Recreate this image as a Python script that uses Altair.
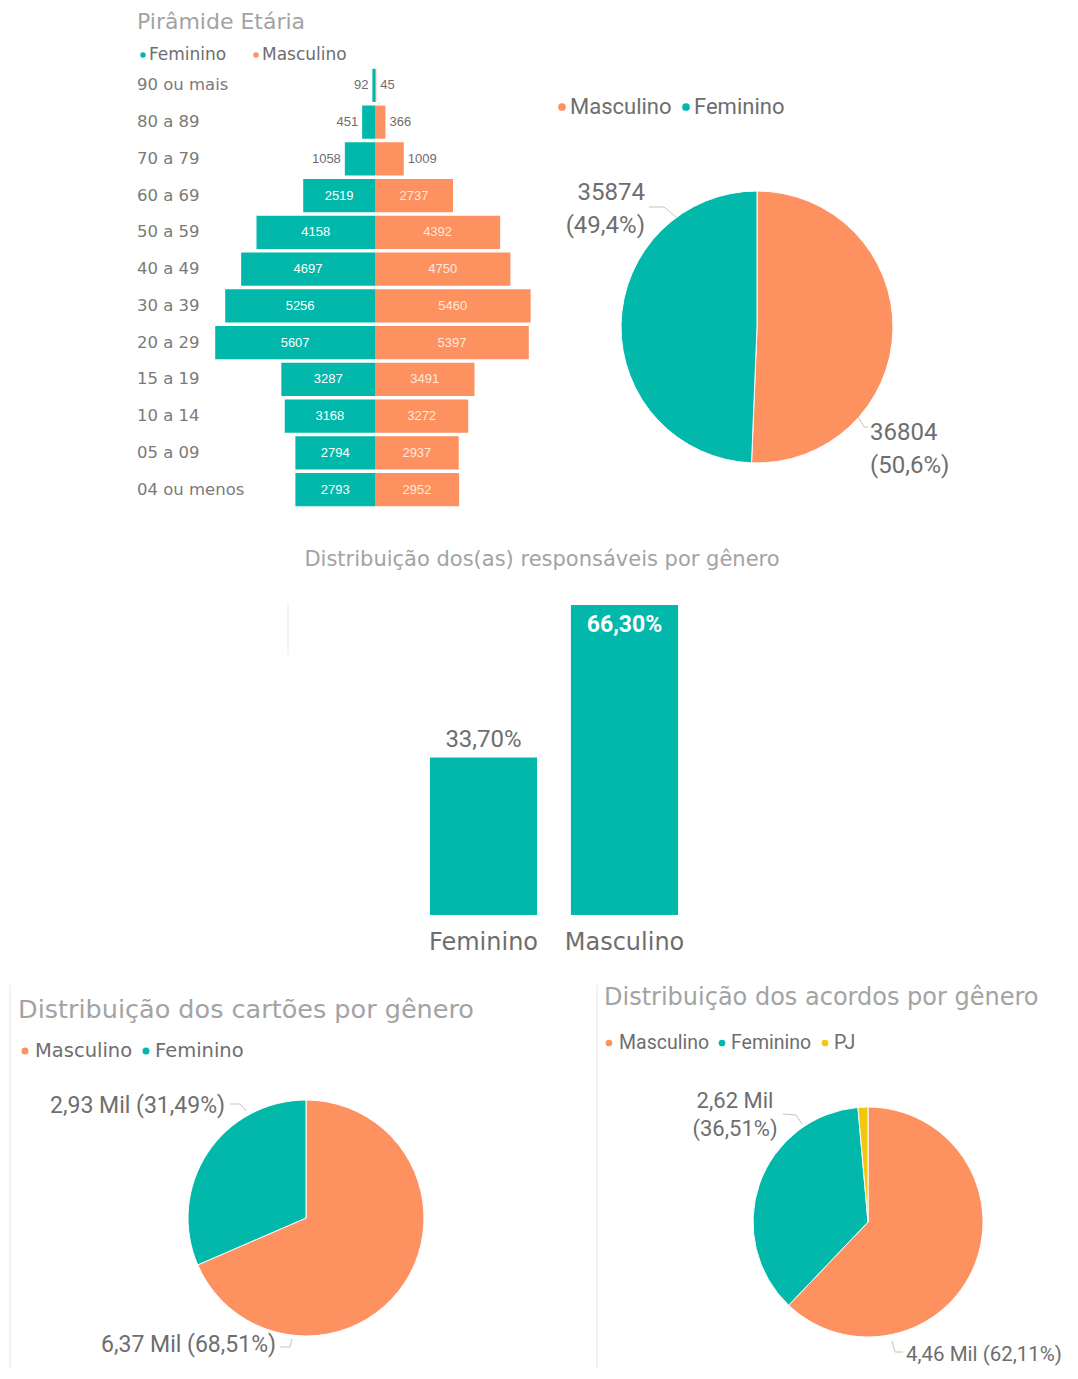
import altair as alt
import pandas as pd

TEAL = "#01B8AA"
ORANGE = "#FD9160"
YELLOW = "#F2C80F"
TITLE_C = "#a3a3a3"
TEXT_C = "#6e6e6e"
LINE_C = "#c4c4c4"

F_UI = "Open Sans, Noto Sans, sans-serif"
F_WIDE = "DejaVu Sans, Verdana, sans-serif"
F_DIN = "Roboto, Noto Sans, sans-serif"
F_AR = "Liberation Sans, Arial, sans-serif"

# ---------------- data ----------------
ages = ["90 ou mais", "80 a 89", "70 a 79", "60 a 69", "50 a 59", "40 a 49",
        "30 a 39", "20 a 29", "15 a 19", "10 a 14", "05 a 09", "04 ou menos"]
fem = [92, 451, 1058, 2519, 4158, 4697, 5256, 5607, 3287, 3168, 2794, 2793]
masc = [45, 366, 1009, 2737, 4392, 4750, 5460, 5397, 3491, 3272, 2937, 2952]

pop_genders = ["Masculino", "Feminino"]
pop_values = [36804, 35874]
pop_pct = [50.6, 49.4]

resp_genders = ["Feminino", "Masculino"]
resp_pct = [33.70, 66.30]

card_genders = ["Masculino", "Feminino"]
card_values = [6.37, 2.93]      # Mil
card_pct = [68.51, 31.49]

deal_genders = ["Masculino", "Feminino", "PJ"]
deal_values = [4.46, 2.62, 0.10]  # Mil
deal_pct = [62.11, 36.51, 1.38]

legend_domain = ["Masculino", "Feminino", "PJ"]
color_sc = alt.Scale(domain=legend_domain, range=[ORANGE, TEAL, YELLOW])

one = pd.DataFrame({"a": [0]})
layers = []


def txt(x, y, s, size, color=TEXT_C, font=F_UI, align="left", weight="normal"):
    return alt.Chart(one).mark_text(
        align=align, baseline="middle", fontSize=size, font=font,
        color=color, fontWeight=weight
    ).encode(x=alt.value(x), y=alt.value(y), text=alt.value(s))


def dot(x, y, color, size=45):
    return alt.Chart(one).mark_circle(size=size, color=color, opacity=1).encode(
        x=alt.value(x), y=alt.value(y))


def seg(x1, y1, x2, y2, color=LINE_C):
    return alt.Chart(one).mark_rule(color=color, strokeWidth=1).encode(
        x=alt.value(x1), x2=alt.value(x2), y=alt.value(y1), y2=alt.value(y2))


# ---------------- pyramid ----------------
pyr = pd.DataFrame({"age": ages, "fem": fem, "masc": masc})
ysc = alt.Scale(domain=ages, range=[59, 500], paddingInner=0.1, paddingOuter=0.05)
fx = alt.Scale(domain=[0, 6000], range=[367, 196], nice=False, zero=True)
mx = alt.Scale(domain=[0, 6000], range=[367, 538], nice=False, zero=True)
Y = alt.Y("age:N", scale=ysc, axis=None)

layers.append(txt(129, 14, "Pirâmide Etária", 22, TITLE_C, F_WIDE))
layers.append(dot(135, 47, TEAL, 30))
layers.append(txt(141, 47, "Feminino", 17, TEXT_C, F_WIDE))
layers.append(dot(248, 47, ORANGE, 30))
layers.append(txt(254, 47, "Masculino", 17, TEXT_C, F_WIDE))

layers.append(alt.Chart(pyr).mark_text(align="left", fontSize=16.5, font=F_WIDE, color="#7a7a7a")
              .encode(y=Y, x=alt.value(129), text="age:N"))

layers.append(alt.Chart(pyr).transform_calculate(z="0").mark_bar(color=TEAL)
              .encode(y=Y, x=alt.X("fem:Q", scale=fx, axis=None), x2="z:Q"))
layers.append(alt.Chart(pyr).transform_calculate(z="0").mark_bar(color=ORANGE)
              .encode(y=Y, x=alt.X("masc:Q", scale=mx, axis=None), x2="z:Q"))

layers.append(alt.Chart(pyr).transform_filter("datum.fem >= 2000")
              .transform_calculate(mid="datum.fem / 2")
              .mark_text(fontSize=13, font=F_AR, color="#ffffff")
              .encode(y=Y, x=alt.X("mid:Q", scale=fx, axis=None), text="fem:Q"))
layers.append(alt.Chart(pyr).transform_filter("datum.fem < 2000")
              .mark_text(fontSize=13, font=F_AR, color=TEXT_C, align="right", dx=-4)
              .encode(y=Y, x=alt.X("fem:Q", scale=fx, axis=None), text="fem:Q"))
layers.append(alt.Chart(pyr).transform_filter("datum.masc >= 2000")
              .transform_calculate(mid="datum.masc / 2")
              .mark_text(fontSize=13, font=F_AR, color="#ffe8dc")
              .encode(y=Y, x=alt.X("mid:Q", scale=mx, axis=None), text="masc:Q"))
layers.append(alt.Chart(pyr).transform_filter("datum.masc < 2000")
              .mark_text(fontSize=13, font=F_AR, color=TEXT_C, align="left", dx=4)
              .encode(y=Y, x=alt.X("masc:Q", scale=mx, axis=None), text="masc:Q"))

# ---------------- pie 1 (population) ----------------
pop = pd.DataFrame({"g": pop_genders, "v": pop_values, "p": pop_pct, "o": [0, 1]})
layers.append(dot(554, 99, ORANGE, 60))
layers.append(txt(562, 99, "Masculino", 22, TEXT_C, F_DIN))
layers.append(dot(678, 99, TEAL, 60))
layers.append(txt(686, 99, "Feminino", 22, TEXT_C, F_DIN))
layers.append(alt.Chart(pop).mark_arc(radius=136, stroke="#ffffff", strokeWidth=1).encode(
    theta=alt.Theta("v:Q", stack=True),
    color=alt.Color("g:N", scale=color_sc, legend=None),
    order=alt.Order("o:Q"),
    x=alt.value(749), y=alt.value(319)))
pop_lab = "format(datum.v, 'd') + '\\n(' + replace(format(datum.p, '.1f'), '.', ',') + '%)'"
layers.append(alt.Chart(pop).transform_filter("datum.g == 'Feminino'")
              .transform_calculate(lab=pop_lab)
              .mark_text(align="right", baseline="middle", lineBreak="\n", lineHeight=33,
                         fontSize=24, font=F_DIN, color=TEXT_C)
              .encode(x=alt.value(637), y=alt.value(185), text="lab:N"))
layers.append(alt.Chart(pop).transform_filter("datum.g == 'Masculino'")
              .transform_calculate(lab=pop_lab)
              .mark_text(align="left", baseline="middle", lineBreak="\n", lineHeight=33,
                         fontSize=24, font=F_DIN, color=TEXT_C)
              .encode(x=alt.value(862), y=alt.value(425), text="lab:N"))
layers += [seg(641, 199, 656, 199), seg(656, 199, 668, 209),
           seg(850, 409, 856, 419), seg(856, 419, 860, 419)]

# ---------------- bar chart (responsáveis) ----------------
resp = pd.DataFrame({"g": resp_genders, "p": resp_pct})
bx = alt.Scale(domain=resp_genders, range=[405, 687], paddingInner=0.24, paddingOuter=0.12)
by = alt.Scale(domain=[0, 70], range=[907, 579.7], nice=False, zero=True)
BX = alt.X("g:N", scale=bx, axis=None)
BY = alt.Y("p:Q", scale=by, axis=None)
pct_lab = "replace(format(datum.p, '.2f'), '.', ',') + '%'"

layers.append(txt(534, 552, "Distribuição dos(as) responsáveis por gênero", 21, TITLE_C, F_WIDE, "center"))
layers.append(seg(280, 595, 280, 647, "#f7e6dc"))
layers.append(alt.Chart(resp).transform_calculate(z="0").mark_bar(color=TEAL)
              .encode(x=BX, y=BY, y2="z:Q"))
layers.append(alt.Chart(resp).transform_filter("datum.p < 50")
              .transform_calculate(lab=pct_lab)
              .mark_text(baseline="bottom", dy=-5, fontSize=24, font=F_DIN, color=TEXT_C)
              .encode(x=BX, y=BY, text="lab:N"))
layers.append(alt.Chart(resp).transform_filter("datum.p >= 50")
              .transform_calculate(lab=pct_lab)
              .mark_text(baseline="top", dy=9, fontSize=23, font=F_DIN, color="#ffffff",
                         fontWeight="bold")
              .encode(x=BX, y=BY, text="lab:N"))
layers.append(alt.Chart(resp).mark_text(baseline="middle", fontSize=24, font=F_WIDE, color=TEXT_C)
              .encode(x=BX, y=alt.value(935), text="g:N"))

# ---------------- panel dividers ----------------
layers.append(seg(2, 977, 2, 1360, "#e6e6e6"))
layers.append(seg(589, 977, 589, 1360, "#e6e6e6"))

# ---------------- pie 2 (cartões) ----------------
card = pd.DataFrame({"g": card_genders, "v": card_values, "p": card_pct, "o": [0, 1]})
mil_lab = ("replace(format(datum.v, '.2f'), '.', ',') + ' Mil (' + "
           "replace(format(datum.p, '.2f'), '.', ',') + '%)'")
layers.append(txt(10, 1002, "Distribuição dos cartões por gênero", 25.5, TITLE_C, F_WIDE))
layers.append(dot(17, 1043, ORANGE, 50))
layers.append(txt(27, 1043, "Masculino", 19.5, TEXT_C, F_WIDE))
layers.append(dot(138, 1043, TEAL, 50))
layers.append(txt(147, 1043, "Feminino", 19.5, TEXT_C, F_WIDE))
layers.append(alt.Chart(card).mark_arc(radius=118, stroke="#ffffff", strokeWidth=1).encode(
    theta=alt.Theta("v:Q", stack=True),
    color=alt.Color("g:N", scale=color_sc, legend=None),
    order=alt.Order("o:Q"),
    x=alt.value(298), y=alt.value(1210)))
layers.append(alt.Chart(card).transform_filter("datum.g == 'Feminino'")
              .transform_calculate(lab=mil_lab)
              .mark_text(align="right", baseline="middle", fontSize=23, font=F_DIN, color=TEXT_C)
              .encode(x=alt.value(217), y=alt.value(1098), text="lab:N"))
layers.append(alt.Chart(card).transform_filter("datum.g == 'Masculino'")
              .transform_calculate(lab=mil_lab)
              .mark_text(align="right", baseline="middle", fontSize=23, font=F_DIN, color=TEXT_C)
              .encode(x=alt.value(268), y=alt.value(1337), text="lab:N"))
layers += [seg(222, 1096, 232, 1096), seg(232, 1096, 238, 1103),
           seg(272, 1339, 282, 1339), seg(282, 1339, 284, 1331)]

# ---------------- pie 3 (acordos) ----------------
deal = pd.DataFrame({"g": deal_genders, "v": deal_values, "p": deal_pct, "o": [0, 1, 2]})
layers.append(txt(596, 990, "Distribuição dos acordos por gênero", 24, TITLE_C, F_WIDE))
layers.append(dot(601, 1035, ORANGE, 45))
layers.append(txt(611, 1035, "Masculino", 19.5, TEXT_C, F_DIN))
layers.append(dot(714, 1035, TEAL, 45))
layers.append(txt(723, 1035, "Feminino", 19.5, TEXT_C, F_DIN))
layers.append(dot(817, 1035, YELLOW, 45))
layers.append(txt(826, 1035, "PJ", 19.5, TEXT_C, F_DIN))
layers.append(alt.Chart(deal).mark_arc(radius=115, stroke="#ffffff", strokeWidth=1).encode(
    theta=alt.Theta("v:Q", stack=True),
    color=alt.Color("g:N", scale=color_sc, legend=None),
    order=alt.Order("o:Q"),
    x=alt.value(860), y=alt.value(1214)))
mil_lab2 = ("replace(format(datum.v, '.2f'), '.', ',') + ' Mil\\n(' + "
            "replace(format(datum.p, '.2f'), '.', ',') + '%)'")
layers.append(alt.Chart(deal).transform_filter("datum.g == 'Feminino'")
              .transform_calculate(lab=mil_lab2)
              .mark_text(align="center", baseline="middle", lineBreak="\n", lineHeight=28,
                         fontSize=22, font=F_DIN, color=TEXT_C)
              .encode(x=alt.value(727), y=alt.value(1093), text="lab:N"))
layers.append(alt.Chart(deal).transform_filter("datum.g == 'Masculino'")
              .transform_calculate(lab=mil_lab)
              .mark_text(align="left", baseline="middle", fontSize=20.5, font=F_DIN, color=TEXT_C)
              .encode(x=alt.value(898), y=alt.value(1347), text="lab:N"))
layers += [seg(884, 1333, 887, 1344), seg(887, 1344, 895, 1344),
           seg(775, 1106, 788, 1107), seg(788, 1107, 794, 1116)]

chart = alt.layer(*layers).resolve_scale(
    x="independent", y="independent", theta="independent"
).properties(
    width=1062, height=1360, padding=0,
    autosize=alt.AutoSizeParams(type="none"), background="#ffffff"
).configure_view(strokeWidth=0)

chart.save("out.html", embed_options={"renderer": "svg", "actions": False})
